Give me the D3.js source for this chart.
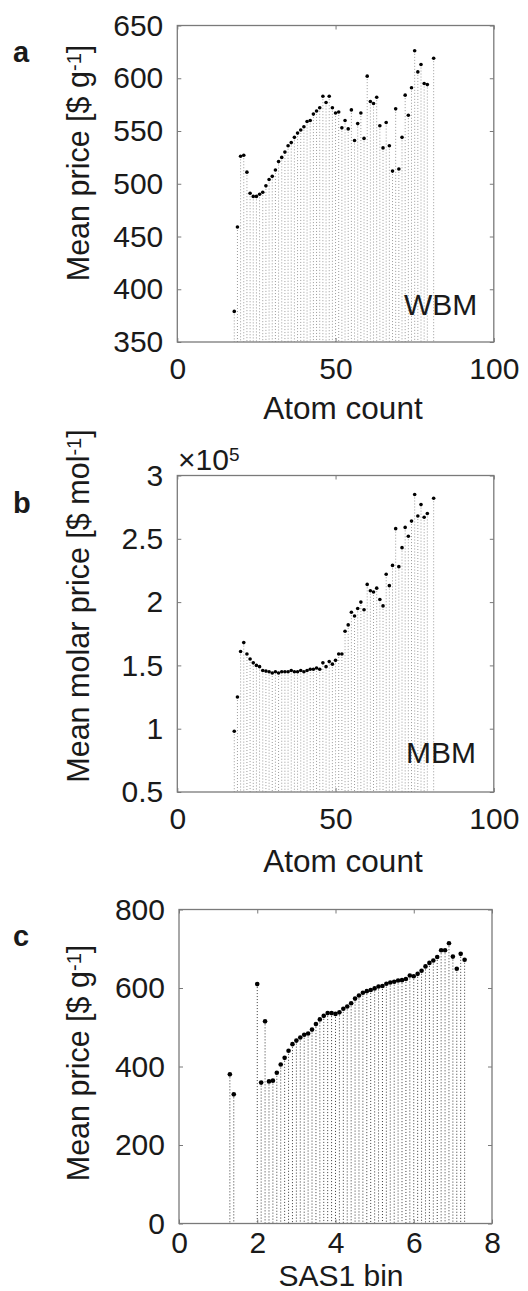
<!DOCTYPE html>
<html>
<head>
<meta charset="utf-8">
<script src="https://cdn.jsdelivr.net/npm/d3@7"></script>
<style>
  body { margin: 0; background: #fff; }
  svg text { font-family: "Liberation Sans", Arial, Helvetica, sans-serif; fill: #1a1a1a; }
</style>
</head>
<body>
<svg id="fig" width="528" height="1291"></svg>
<script>
// atom count bins (no bin at 80)
var atomCount = [18,19,20,21,22,23,24,25,26,27,28,29,30,31,32,33,34,35,36,37,38,39,40,
  41,42,43,44,45,46,47,48,49,50,51,52,53,54,55,56,57,58,59,60,61,62,63,64,65,66,67,68,69,70,
  71,72,73,74,75,76,77,78,79,81];

// panel a, weight based mean price [$ / g]
var wbmPrice = [379,459,526,527,511,491,488,488,490,492,498,504,507,513,521,525,530,536,539,544,548,551,554,
  559,560,566,569,572,583,577,583,572,567,568,553,560,552,570,541,557,567,543,602,578,576,582,555,534,558,536,512,571,514,
  544,584,565,591,626,606,613,595,594,619];

// panel b, molar based mean price [$ / mol]
var mbmPrice = [98000,125000,161000,168000,159000,155000,152000,150000,149000,146000,145500,145000,144000,145000,144000,145000,145000,145000,146000,145000,145000,146000,145000,
  146000,147000,147000,148000,147000,152000,149000,153000,151000,154000,159000,159000,177000,182000,192000,189000,195000,200000,194000,214000,209000,208000,211000,202000,197000,222000,213000,229000,258000,228000,
  243000,259000,252000,264000,285000,268000,277000,267000,270000,282000];

// panel c, SAS1 bins
var sasBin = [1.3,1.4,2.0,2.1,2.2,2.3,2.4,2.5,2.6,2.7,2.8,2.9,3.0,3.1,3.2,3.3,3.4,3.5,3.6,3.7,3.8,3.9,
  4.0,4.1,4.2,4.3,4.4,4.5,4.6,4.7,4.8,4.9,5.0,5.1,5.2,5.3,5.4,5.5,5.6,5.7,5.8,5.9,
  6.0,6.1,6.2,6.3,6.4,6.5,6.6,6.7,6.8,6.9,7.0,7.1,7.2,7.3];
var sasPrice = [380,329,610,359,515,362,364,384,405,422,440,457,466,474,481,484,494,508,520,529,536,536,
  534,538,547,553,561,573,581,588,592,595,599,604,605,611,614,616,619,620,623,632,
  630,636,644,655,664,670,679,696,696,714,680,649,687,672];

var atomTicks = [0, 50, 100],
    wbmTicks = [350, 400, 450, 500, 550, 600, 650],
    mbmTicks = [50000, 100000, 150000, 200000, 250000, 300000],
    sasTicks = [0, 2, 4, 6, 8],
    sasPriceTicks = [0, 200, 400, 600, 800];

var svg = d3.select("#fig");

function panel(o) {
  var g = svg.append("g")
      .attr("transform", "translate(" + o.left + "," + o.top + ")");

  var x = d3.scaleLinear().domain(o.xDomain).range([0, o.width]);
  var y = d3.scaleLinear().domain(o.yDomain).range([o.height, 0]);

  var data = o.xs.map(function(d, i) { return {x: d, y: o.ys[i]}; });

  // dotted stems down to the bottom of the axes
  g.selectAll("line.stem")
      .data(data)
    .enter().append("line")
      .attr("class", "stem")
      .attr("x1", function(d) { return x(d.x); })
      .attr("x2", function(d) { return x(d.x); })
      .attr("y1", function(d) { return y(d.y); })
      .attr("y2", y.range()[0])
      .attr("stroke", o.stemColor)
      .attr("stroke-width", 1)
      .attr("stroke-dasharray", "1,2");

  // axes, ticks pointing inward on all four sides
  var bottom = g.append("g")
      .attr("transform", "translate(0," + o.height + ")")
      .call(d3.axisBottom(x).tickValues(o.xTicks).tickSize(-4).tickPadding(o.xPad));
  var top = g.append("g")
      .call(d3.axisTop(x).tickValues(o.xTicks).tickSize(-4).tickFormat(""));
  var left = g.append("g")
      .call(d3.axisLeft(y).tickValues(o.yTicks).tickSize(-4).tickPadding(14).tickFormat(o.yFormat));
  var right = g.append("g")
      .attr("transform", "translate(" + o.width + ",0)")
      .call(d3.axisRight(y).tickValues(o.yTicks).tickSize(-4).tickFormat(""));

  [bottom, top, left, right].forEach(function(a) {
    a.select(".domain").remove();
    a.attr("font-size", 30).attr("font-family", null);
    a.selectAll(".tick line").attr("stroke", "#7a7a7a").attr("stroke-width", 1);
  });

  g.append("rect")
      .attr("width", o.width)
      .attr("height", o.height)
      .attr("fill", "none")
      .attr("stroke", "#7a7a7a")
      .attr("stroke-width", 1.3);

  g.selectAll("circle.pt")
      .data(data)
    .enter().append("circle")
      .attr("class", "pt")
      .attr("cx", function(d) { return x(d.x); })
      .attr("cy", function(d) { return y(d.y); })
      .attr("r", o.r)
      .attr("fill", "#000");

  // panel letter
  svg.append("text")
      .attr("x", 13).attr("y", o.letterY)
      .attr("font-size", 29).attr("font-weight", "bold")
      .text(o.letter);

  // axis labels
  svg.append("text")
      .attr("x", o.xLabelX).attr("y", o.xLabelY)
      .attr("text-anchor", "middle").attr("font-size", o.xLabelSize)
      .text(o.xLabel);

  var yl = svg.append("text")
      .attr("transform", "translate(89," + o.yLabelY + ") rotate(-90)")
      .attr("text-anchor", "middle").attr("font-size", 30.5);
  yl.append("tspan").text(o.yLabel[0]);
  yl.append("tspan").attr("dy", "-0.42em").attr("font-size", 20).text(o.yLabel[1]);
  yl.append("tspan").attr("dy", "0.28em").text(o.yLabel[2]);

  if (o.tag) {
    svg.append("text")
        .attr("x", o.tag[1]).attr("y", o.tag[2])
        .attr("font-size", 30)
        .text(o.tag[0]);
  }
}

panel({
  letter: "a", letterY: 62,
  left: 177.3, top: 25.5, width: 316.5, height: 316.5,
  xs: atomCount, ys: wbmPrice,
  xDomain: [0, 100], yDomain: [350, 650],
  xTicks: atomTicks, yTicks: wbmTicks, yFormat: d3.format("d"),
  xPad: 16, r: 1.8, stemColor: "#9a9a9a",
  xLabel: "Atom count", xLabelX: 343, xLabelY: 419, xLabelSize: 31.5,
  yLabel: ["Mean price [$ g", "-1", "]"], yLabelY: 163,
  tag: ["WBM", 404, 315]
});

panel({
  letter: "b", letterY: 513,
  left: 177.3, top: 475.5, width: 316.5, height: 316.5,
  xs: atomCount, ys: mbmPrice,
  xDomain: [0, 100], yDomain: [50000, 300000],
  xTicks: atomTicks, yTicks: mbmTicks, yFormat: function(d) { return d / 1e5; },
  xPad: 16, r: 1.8, stemColor: "#9a9a9a",
  xLabel: "Atom count", xLabelX: 343, xLabelY: 872, xLabelSize: 31.5,
  yLabel: ["Mean molar price [$ mol", "-1", "]"], yLabelY: 606,
  tag: ["MBM", 406, 763]
});

panel({
  letter: "c", letterY: 946,
  left: 179, top: 909.5, width: 313, height: 314,
  xs: sasBin, ys: sasPrice,
  xDomain: [0, 8], yDomain: [0, 800],
  xTicks: sasTicks, yTicks: sasPriceTicks, yFormat: d3.format("d"),
  xPad: 8, r: 2.3, stemColor: "#3a3a3a",
  xLabel: "SAS1 bin", xLabelX: 341, xLabelY: 1286, xLabelSize: 30,
  yLabel: ["Mean price [$ g", "-1", "]"], yLabelY: 1063
});

// exponent label of panel b
var ex = svg.append("text").attr("x", 178).attr("y", 470).attr("font-size", 30);
ex.append("tspan").text("\u00d710");
ex.append("tspan").attr("dy", "-0.45em").attr("font-size", 19).text("5");
</script>
</body>
</html>
